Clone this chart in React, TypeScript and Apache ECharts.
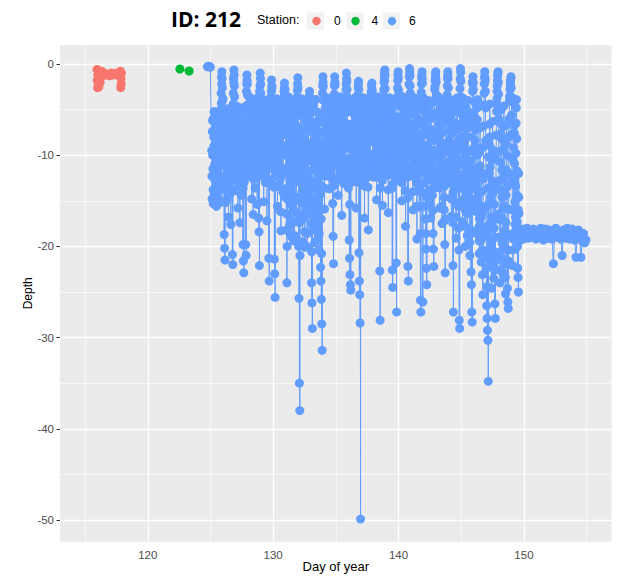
import React, { useEffect, useRef } from "react";
import * as echarts from "echarts";

// ---- axes ----
const xTicks = [120, 130, 140, 150];
const xMinor = [115, 125, 135, 145, 155];
const yTicks = [0, -10, -20, -30, -40, -50];
const yMinor = [-5, -15, -25, -35, -45];

// ---- station 0 (red) ----
const station0Day = [115.95, 115.97, 116.0, 116.02, 116.05, 116.08, 116.1, 116.13, 116.16, 116.2, 116.24, 116.28, 116.32, 116.36, 116.5, 116.65, 116.8, 116.95, 117.1, 117.25, 117.4, 117.55, 117.7, 117.82, 117.84, 117.86, 117.88, 117.9];
const station0Depth = [-0.6, -1.8, -2.6, -1.2, -2.2, -0.8, -2.5, -1.5, -0.9, -2.0, -1.1, -1.4, -0.8, -1.3, -1.0, -1.2, -1.1, -1.3, -1.0, -1.2, -1.1, -1.0, -1.3, -0.8, -2.6, -1.6, -2.2, -1.0];

// ---- station 4 (green) ----
const station4Day = [122.56, 123.3];
const station4Depth = [-0.55, -0.77];

// ---- station 6 (blue) ----
const surfaceDay = [124.76, 124.8, 124.85, 124.9, 124.95, 124.99];
const surfaceDepth = [-0.3, -0.3, -0.25, -0.3, -0.3, -0.35];

const samplesPerDay = 32;
const diveStartDay = [125.1, 126, 127, 128, 129, 130, 131, 132, 133, 134, 135, 136, 137, 138, 139, 140, 141, 142, 143, 144, 145, 146, 147, 148, 149];
// samples on the 1/32-day grid
const diveDepths = [
  [-9.5, -14.8, -6.2, -11.5, -15.3, -8.0, -5.2, -12.6, -15.0, -9.8, -6.5, -13.4, -15.6, -10.6, -7.1, -5.4, -12.0, -14.6, -8.7, -11.2, -15.2, -13.0, -7.6, -5.0, -3.2, -1.4, -0.85, -2.6],
  [-3.8, -8.5, -13.8, -18.7, -20.2, -21.5, -15.2, -10.4, -5.6, -12.2, -14.9, -7.3, -4.9, -11.0, -16.8, -13.5, -8.2, -5.5, -10.9, -14.2, -17.6, -9.4, -6.0, -12.8, -20.9, -22.0, -4.4, -1.6, -0.66, -2.4, -5.0, -9.6],
  [-12.4, -6.8, -4.6, -10.2, -13.9, -8.1, -15.8, -11.3, -5.2, -9.0, -13.2, -17.4, -7.5, -4.8, -11.8, -14.4, -9.6, -6.1, -12.5, -19.8, -21.6, -22.9, -13.0, -7.9, -5.0, -10.7, -19.8, -21.0, -3.0, -1.2, -2.2, -4.5],
  [-8.8, -11.6, -5.3, -3.6, -9.4, -12.1, -7.0, -4.2, -10.5, -14.8, -8.3, -5.8, -11.9, -16.5, -9.9, -4.0, -7.7, -11.2, -13.6, -6.4, -3.8, -9.1, -12.4, -15.4, -8.6, -5.1, -10.8, -16.9, -18.4, -22.1, -3.4, -1.0],
  [-2.2, -4.8, -9.7, -12.0, -6.5, -3.9, -8.4, -11.4, -15.1, -7.2, -4.5, -10.1, -13.0, -8.9, -5.6, -11.7, -17.2, -9.3, -4.1, -7.9, -12.6, -21.3, -23.8, -10.4, -6.2, -3.7, -9.8, -4.0, -1.75, -2.6, -5.4, -11.0],
  [-8.0, -4.3, -13.5, -21.4, -23.0, -25.6, -12.2, -6.9, -3.8, -9.5, -11.8, -15.6, -7.4, -4.6, -10.3, -13.3, -8.1, -5.2, -11.5, -16.2, -18.3, -9.2, -6.0, -3.9, -10.0, -14.1, -7.6, -4.4, -3.0, -2.1, -2.8, -4.9],
  [-9.4, -14.7, -18.2, -24.0, -16.5, -11.3, -5.8, -3.6, -8.7, -13.8, -17.6, -12.0, -6.3, -4.1, -10.6, -15.4, -19.0, -13.1, -7.8, -4.7, -9.9, -14.5, -18.8, -11.6, -5.5, -8.2, -12.9, -17.3, -10.2, -4.8, -2.9, -1.5],
  [-4.2, -20.0, -25.7, -35.0, -38.0, -16.8, -10.9, -5.6, -3.8, -9.0, -14.0, -19.5, -12.7, -7.1, -4.4, -11.1, -16.3, -20.1, -13.9, -8.5, -5.0, -10.3, -15.1, -18.6, -12.2, -6.7, -9.7, -4.5, -3.5, -3.0, -4.0, -7.4],
  [-12.8, -17.5, -24.0, -26.2, -29.0, -15.0, -8.8, -4.6, -11.4, -16.0, -19.6, -13.2, -6.9, -3.9, -10.1, -14.6, -18.1, -9.5, -5.3, -12.5, -17.0, -20.4, -11.9, -6.1, -14.3, -22.3, -23.8, -25.8, -28.5, -31.4, -3.2, -1.4],
  [-2.5, -6.4, -11.7, -15.9, -9.3, -4.8, -8.0, -12.3, -6.6, -3.7, -9.7, -11.4, -7.2, -4.3, -10.6, -13.7, -8.4, -5.1, -3.9, -9.1, -11.9, -6.8, -4.6, -10.2, -15.3, -18.9, -21.9, -8.3, -3.3, -1.4, -2.3, -4.7],
  [-9.6, -11.2, -6.0, -3.8, -8.7, -10.9, -14.4, -7.5, -4.4, -9.9, -12.0, -6.3, -3.6, -8.2, -11.5, -16.6, -9.0, -5.0, -7.8, -10.6, -13.1, -6.7, -4.0, -9.3, -11.8, -5.4, -2.8, -1.0, -1.9, -3.6, -7.0, -10.4],
  [-13.6, -8.1, -19.3, -21.3, -23.1, -24.2, -24.8, -10.5, -5.2, -3.9, -9.4, -11.7, -7.0, -4.5, -10.0, -12.9, -6.5, -3.7, -8.6, -11.3, -15.8, -9.1, -5.7, -10.8, -4.2, -2.6, -1.9, -20.7, -23.8, -25.3, -28.4, -49.9],
  [-12.0, -7.3, -4.0, -9.2, -11.5, -6.1, -3.7, -8.8, -12.6, -16.9, -10.1, -5.3, -4.1, -9.6, -11.2, -7.4, -4.7, -10.3, -13.5, -18.2, -9.8, -6.2, -3.8, -8.5, -11.0, -5.6, -3.4, -2.4, -2.1, -3.1, -6.6, -10.9],
  [-8.3, -4.4, -9.8, -11.6, -6.5, -3.9, -8.0, -10.8, -14.9, -7.8, -4.6, -9.3, -11.9, -5.9, -3.6, -10.4, -22.7, -28.1, -12.3, -7.1, -4.3, -9.0, -11.4, -15.5, -8.7, -5.0, -3.5, -2.0, -0.9, -0.66, -2.7, -5.8],
  [-9.9, -11.8, -6.9, -4.0, -8.9, -12.2, -16.3, -9.5, -5.4, -3.7, -9.1, -11.1, -6.4, -4.2, -10.2, -13.6, -22.6, -24.5, -10.7, -5.9, -3.9, -8.6, -11.6, -7.3, -4.5, -12.8, -21.8, -27.2, -9.4, -3.6, -1.8, -0.84],
  [-2.9, -6.2, -10.4, -12.0, -7.6, -4.1, -9.2, -11.3, -15.0, -8.2, -4.8, -3.6, -9.7, -11.9, -6.8, -4.4, -10.5, -13.9, -17.8, -9.0, -5.2, -3.8, -8.4, -14.7, -22.2, -23.8, -6.6, -2.2, -0.5, -1.3, -3.2, -7.9],
  [-11.4, -6.7, -4.2, -9.8, -12.3, -16.0, -8.5, -4.9, -3.7, -10.1, -11.7, -7.0, -4.3, -9.4, -13.0, -19.2, -10.6, -6.0, -3.9, -8.8, -11.8, -15.7, -7.7, -13.9, -25.9, -27.2, -3.1, -1.5, -0.84, -2.1, -26.1, -9.2],
  [-5.1, -3.8, -8.9, -11.5, -14.2, -17.0, -20.3, -22.4, -24.2, -10.8, -5.5, -4.0, -9.6, -12.4, -7.2, -4.6, -10.3, -13.8, -16.9, -8.1, -4.3, -9.5, -12.7, -16.1, -18.6, -20.3, -22.2, -7.6, -3.9, -2.5, -1.4, -0.85],
  [-2.0, -5.3, -10.1, -12.9, -8.0, -4.2, -3.6, -9.3, -11.6, -15.8, -9.1, -5.0, -4.0, -10.0, -13.3, -17.5, -8.7, -4.7, -7.5, -11.2, -14.6, -17.2, -19.8, -22.9, -11.9, -6.4, -3.8, -9.0, -3.4, -1.6, -0.85, -2.6],
  [-5.9, -10.7, -12.6, -7.4, -4.1, -9.0, -13.1, -16.7, -10.2, -5.4, -14.4, -22.1, -27.2, -12.0, -6.6, -3.9, -8.8, -11.4, -15.2, -19.1, -9.7, -4.9, -3.7, -10.4, -13.6, -18.0, -20.4, -28.1, -29.0, -2.7, -0.5, -1.9],
  [-4.6, -9.2, -12.8, -17.3, -11.0, -5.7, -3.8, -8.6, -12.1, -15.9, -20.0, -9.8, -4.7, -7.9, -11.8, -16.4, -13.2, -6.3, -4.0, -9.5, -12.9, -18.4, -21.0, -10.6, -15.0, -22.8, -24.2, -27.2, -28.3, -3.0, -1.4, -2.8],
  [-6.9, -11.5, -14.8, -8.4, -4.3, -10.0, -13.7, -18.6, -12.2, -6.1, -3.9, -9.9, -14.1, -17.9, -20.8, -12.5, -7.0, -15.6, -19.4, -21.7, -14.0, -18.8, -23.1, -25.3, -16.2, -9.1, -4.5, -2.2, -0.85, -1.8, -4.8, -12.0],
  [-18.5, -26.5, -27.9, -29.2, -30.3, -34.8, -21.4, -15.3, -8.9, -4.4, -11.3, -17.7, -22.0, -24.6, -19.2, -12.8, -6.3, -14.2, -20.5, -23.5, -18.0, -22.6, -26.3, -27.9, -16.6, -10.5, -5.2, -3.8, -2.4, -1.3, -0.85, -3.3],
  [-9.6, -16.4, -21.2, -24.0, -17.1, -10.8, -5.0, -8.2, -14.6, -19.7, -22.9, -15.8, -9.3, -4.6, -12.4, -18.3, -21.9, -25.2, -17.4, -11.6, -6.7, -13.5, -24.6, -26.1, -26.8, -15.9, -8.0, -4.1, -3.5, -2.3, -1.9, -1.4],
  [-3.6, -7.7, -13.0, -18.6, -22.1, -16.0, -9.2, -4.3, -10.9, -15.1, -20.3, -13.4, -6.5, -3.9, -11.7, -17.3, -22.4, -23.4, -25.0, -14.6, -18.2],
];
// samples half-way between those above
const diveDepthsHalf = [
  [-12.3, -7.4, -10.0, -13.8, -6.0, -9.0, -14.2, -11.0, -5.8, -8.4, -12.9, -10.4, -7.0, -14.0, -9.3, -6.2, -11.6, -13.3, -7.9, -10.1, -12.3, -5.6, -9.6, -6.8, -4.3, -2.2, -1.6, -4.0],
  [-5.8, -11.0, -7.0, -12.5, -9.0, -6.6, -13.0, -8.0, -10.2, -6.8, -12.0, -9.6, -14.0, -7.8, -5.2, -9.8, -12.6, -7.2, -11.2, -6.4, -13.6, -8.6, -10.4, -5.8, -9.2, -6.0, -3.2, -2.0, -1.2, -3.6, -7.2, -12.0],
  [-9.4, -5.6, -7.6, -12.0, -11.0, -6.0, -13.6, -9.2, -7.0, -11.6, -5.6, -14.0, -10.0, -6.4, -8.6, -12.8, -7.8, -10.8, -9.0, -13.6, -6.6, -11.4, -8.2, -12.6, -6.8, -9.4, -7.2, -4.6, -2.2, -1.8, -3.4, -6.6],
  [-6.4, -9.8, -4.4, -7.4, -11.0, -5.6, -8.6, -12.2, -6.0, -9.6, -4.8, -10.6, -7.0, -12.6, -5.4, -8.2, -10.4, -6.2, -9.4, -4.6, -11.6, -7.6, -5.0, -10.0, -6.8, -12.0, -8.4, -4.2, -6.0, -3.0, -2.4, -1.6],
  [-3.2, -7.0, -11.0, -5.2, -8.6, -10.4, -6.0, -12.4, -9.4, -5.0, -7.8, -11.8, -6.6, -10.0, -4.4, -8.2, -12.6, -6.2, -9.6, -5.6, -10.8, -7.2, -13.0, -8.6, -4.8, -11.2, -6.4, -3.0, -2.4, -3.8, -7.6, -9.0],
  [-6.2, -9.0, -11.6, -5.0, -7.6, -10.6, -8.4, -4.8, -12.0, -6.6, -9.8, -7.2, -13.4, -5.6, -11.2, -8.0, -10.0, -6.4, -12.6, -7.0, -9.4, -4.6, -11.4, -7.8, -5.6, -9.2, -5.4, -3.6, -2.6, -3.4, -4.0, -6.8],
  [-12.0, -16.4, -7.6, -20.0, -13.6, -8.8, -4.6, -10.2, -15.0, -6.6, -18.6, -11.0, -14.2, -5.2, -9.0, -17.2, -12.6, -7.0, -15.8, -10.4, -19.4, -6.0, -13.0, -16.2, -8.4, -11.4, -14.8, -6.8, -9.6, -3.6, -2.2, -2.6],
  [-8.2, -14.6, -11.8, -17.4, -21.0, -12.4, -7.6, -15.2, -9.4, -5.4, -12.6, -17.0, -8.0, -14.8, -6.0, -10.0, -18.4, -13.0, -9.8, -15.8, -7.0, -12.8, -20.0, -16.6, -9.0, -14.2, -6.4, -5.6, -4.2, -3.6, -5.2, -10.6],
  [-15.6, -9.8, -20.6, -13.4, -18.2, -11.6, -6.4, -9.0, -13.6, -17.8, -8.2, -15.4, -5.2, -11.6, -16.8, -7.8, -12.8, -19.2, -9.8, -14.8, -7.4, -18.6, -10.4, -15.8, -8.6, -12.2, -17.0, -20.8, -13.4, -6.4, -2.4, -2.0],
  [-4.0, -9.0, -13.6, -7.4, -11.0, -5.8, -10.2, -8.4, -4.6, -6.8, -10.8, -8.8, -5.6, -12.2, -7.0, -9.6, -11.4, -6.2, -8.2, -10.4, -5.2, -9.4, -7.4, -12.6, -6.4, -10.0, -13.4, -5.4, -2.4, -2.0, -3.6, -6.2],
  [-10.6, -8.2, -4.6, -6.6, -9.8, -12.6, -5.6, -8.6, -11.2, -7.0, -4.8, -10.6, -9.2, -5.6, -12.4, -7.8, -10.2, -6.2, -9.0, -11.6, -8.0, -5.0, -10.8, -7.2, -8.8, -4.2, -2.2, -1.6, -2.8, -5.2, -8.6, -12.2],
  [-10.8, -6.6, -12.4, -15.4, -11.6, -8.0, -13.0, -7.4, -4.4, -6.6, -10.6, -8.8, -5.4, -12.0, -7.6, -9.4, -11.0, -5.0, -10.0, -7.0, -12.8, -6.2, -8.4, -6.0, -3.4, -2.2, -2.8, -4.0, -13.0, -9.6, -7.0, -11.8],
  [-9.6, -5.2, -6.6, -11.0, -8.2, -4.8, -10.4, -12.0, -7.0, -13.4, -7.6, -9.0, -6.2, -11.6, -8.6, -5.6, -12.4, -8.0, -10.8, -6.4, -11.8, -8.4, -5.2, -10.2, -7.0, -4.4, -3.0, -3.8, -2.8, -4.6, -8.4, -12.4],
  [-6.0, -7.4, -11.2, -8.6, -5.0, -10.0, -12.4, -6.8, -9.2, -11.4, -6.0, -10.6, -8.0, -4.6, -7.2, -12.0, -9.4, -13.6, -8.6, -5.6, -10.2, -7.6, -12.8, -10.6, -6.6, -4.4, -2.8, -1.4, -1.8, -1.2, -4.0, -8.0],
  [-12.0, -8.6, -5.2, -6.4, -10.6, -13.8, -11.6, -7.0, -4.4, -6.4, -10.2, -8.2, -5.2, -7.6, -12.0, -9.8, -13.2, -8.0, -7.8, -4.6, -6.4, -10.2, -9.0, -5.8, -8.8, -10.6, -12.6, -8.6, -6.0, -2.6, -1.2, -1.6],
  [-4.4, -8.2, -11.4, -9.6, -5.8, -7.0, -10.2, -13.0, -11.4, -6.4, -4.2, -7.2, -11.0, -8.6, -5.4, -7.6, -12.2, -10.4, -11.6, -7.0, -4.4, -6.2, -11.6, -12.4, -9.6, -8.4, -4.2, -1.4, -0.9, -2.4, -5.4, -9.8],
  [-8.8, -5.2, -7.0, -11.0, -14.0, -10.2, -6.6, -4.0, -7.0, -12.0, -9.2, -5.6, -7.6, -11.2, -15.6, -12.4, -8.2, -5.0, -6.4, -10.2, -13.6, -9.6, -10.8, -18.6, -14.0, -8.6, -2.2, -1.2, -1.6, -3.6, -11.4, -6.8],
  [-4.4, -6.4, -10.2, -13.0, -15.6, -18.6, -12.0, -9.0, -14.6, -7.8, -4.6, -7.0, -11.0, -9.8, -5.8, -8.0, -12.0, -15.4, -10.6, -6.0, -7.2, -11.2, -14.4, -9.6, -12.4, -8.4, -13.6, -5.4, -2.8, -1.8, -1.0, -1.6],
  [-3.4, -7.6, -11.6, -10.2, -5.8, -4.0, -6.6, -10.6, -13.6, -12.0, -7.0, -4.6, -7.2, -11.8, -15.6, -12.2, -6.4, -5.8, -9.2, -12.8, -16.0, -13.4, -9.2, -17.0, -8.8, -5.0, -6.4, -5.8, -2.4, -1.2, -1.6, -4.4],
  [-8.4, -11.6, -9.8, -5.6, -6.6, -11.0, -14.8, -12.8, -7.6, -9.6, -17.4, -14.0, -9.0, -8.8, -4.8, -6.4, -10.0, -13.2, -16.8, -12.6, -7.0, -4.2, -7.2, -12.0, -15.6, -13.6, -10.6, -8.2, -5.4, -1.6, -0.9, -3.6],
  [-6.8, -11.0, -15.0, -13.6, -8.0, -4.6, -6.2, -10.4, -13.8, -17.8, -14.6, -7.0, -6.0, -9.8, -14.0, -18.8, -9.6, -5.2, -7.0, -11.2, -15.6, -19.6, -13.8, -12.8, -18.2, -16.0, -11.6, -8.0, -2.0, -2.2, -2.0, -5.6],
  [-9.2, -13.2, -11.6, -6.2, -7.2, -12.0, -16.2, -15.4, -9.2, -4.8, -7.0, -12.2, -16.0, -19.4, -17.0, -9.6, -11.2, -17.6, -20.6, -16.8, -12.0, -21.0, -19.0, -20.4, -12.6, -6.8, -3.2, -1.4, -1.6, -3.0, -8.4, -15.6],
  [-22.4, -24.4, -20.6, -18.0, -13.6, -10.2, -17.6, -12.0, -6.6, -8.0, -14.6, -19.8, -21.2, -16.8, -10.0, -9.4, -10.4, -17.2, -22.0, -20.8, -15.4, -13.2, -21.6, -19.0, -13.6, -7.8, -4.4, -3.0, -1.8, -1.0, -2.0, -6.0],
  [-12.8, -19.0, -22.6, -20.6, -13.8, -7.6, -6.6, -11.6, -17.0, -21.4, -19.4, -12.6, -6.8, -8.4, -15.6, -20.2, -23.4, -21.4, -14.4, -8.8, -10.0, -18.8, -22.0, -20.4, -21.6, -12.0, -6.0, -3.6, -2.8, -2.0, -1.6, -2.6],
  [-5.6, -10.4, -16.0, -20.4, -19.2, -12.6, -6.8, -7.6, -13.2, -17.6, -16.8, -9.8, -4.8, -8.2, -14.4, -20.0, -18.6, -16.0, -12.0, -16.4, -19.4],
];

const bandStartDay = 149.75;
const bandStep = 0.1;
const bandDepths = [-18.6, -18.1, -19.2, -18.3, -18.9, -18.0, -19.1, -18.4, -18.2, -19.0, -18.1, -18.7, -19.2, -18.2, -18.5, -19.0, -18.0, -18.8, -19.3, -18.3, -18.1, -18.9, -19.1, -18.2, -18.6, -19.2, -21.9, -18.4, -18.0, -19.0, -18.3, -18.8, -19.2, -21.0, -18.2, -18.6, -19.1, -18.0, -18.5, -19.2, -18.3, -18.1, -18.9, -19.3, -21.2, -18.4, -18.2, -19.0, -21.2, -19.4, -18.6, -19.6, -19.3];

const colors = { s0: "#F8766D", s4: "#00BA38", s6: "#619CFF" };
const stations = ["0", "4", "6"];

const FONT = "'Liberation Sans', Arial, sans-serif";

function buildOption() {
  const red = station0Day.map((d, i) => [d, station0Depth[i]]);
  const green = station4Day.map((d, i) => [d, station4Depth[i]]);
  const blue: number[][] = [];
  surfaceDay.forEach((d, i) => blue.push([d, surfaceDepth[i]]));
  diveDepths.forEach((row, r) =>
    row.forEach((v, i) => {
      blue.push([diveStartDay[r] + i / samplesPerDay, v]);
      const h = diveDepthsHalf[r][i];
      if (h !== undefined) blue.push([diveStartDay[r] + (i + 0.5) / samplesPerDay, h]);
    })
  );
  bandDepths.forEach((v, i) => blue.push([bandStartDay + i * bandStep, v]));

  const mkSeries = (name: string, color: string, data: number[][]) => ({
    name,
    type: "line",
    data,
    z: 3,
    symbol: "circle",
    symbolSize: 9,
    showSymbol: true,
    showAllSymbol: true,
    silent: true,
    lineStyle: { color, width: 1 },
    itemStyle: { color, borderWidth: 0 },
    emphasis: { disabled: true },
  });

  const gridLines = [
    ...xMinor.map((v) => ({ xAxis: v, lineStyle: { width: 0.6 } })),
    ...yMinor.map((v) => ({ yAxis: v, lineStyle: { width: 0.6 } })),
    ...xTicks.map((v) => ({ xAxis: v, lineStyle: { width: 1.3 } })),
    ...yTicks.map((v) => ({ yAxis: v, lineStyle: { width: 1.3 } })),
  ];

  const labelStyle = { color: "#4D4D4D", fontSize: 11.5, fontFamily: FONT };

  return {
    animation: false,
    backgroundColor: "#FFFFFF",
    title: {
      text: "ID: 212",
      left: 171,
      top: 8,
      padding: 0,
      textStyle: { fontFamily: "'Open Sans', sans-serif", fontWeight: "bold", fontSize: 21, color: "#000" },
    },
    grid: {
      left: 60,
      right: 8.3,
      top: 45,
      bottom: 36.3,
      show: true,
      backgroundColor: "#EBEBEB",
      borderWidth: 0,
      containLabel: false,
    },
    xAxis: {
      type: "value",
      min: 113,
      max: 157,
      name: "Day of year",
      nameLocation: "middle",
      nameGap: 18,
      nameMoveOverlap: false,
      nameTextStyle: { color: "#000", fontSize: 13, fontFamily: FONT },
      axisLine: { show: false },
      axisTick: { show: true, length: 3.5, customValues: xTicks, lineStyle: { color: "#333333", width: 1 } },
      axisLabel: { ...labelStyle, margin: 7, customValues: xTicks },
      splitLine: { show: false },
    },
    yAxis: {
      type: "value",
      min: -52.38,
      max: 2.08,
      name: "Depth",
      nameLocation: "middle",
      nameGap: 26,
      nameMoveOverlap: false,
      nameTextStyle: { color: "#000", fontSize: 12, fontFamily: FONT },
      axisLine: { show: false },
      axisTick: { show: true, length: 3.5, customValues: yTicks, lineStyle: { color: "#333333", width: 1 } },
      axisLabel: { ...labelStyle, margin: 6, customValues: yTicks },
      splitLine: { show: false },
    },
    graphic: [
      { type: "text", left: 257, top: 13, style: { text: "Station:", fontSize: 12.5, fontFamily: FONT, fill: "#000" } },
      { type: "rect", shape: { x: 307, y: 12.5, width: 17, height: 17 }, style: { fill: "#F2F2F2" } },
      { type: "circle", shape: { cx: 316.5, cy: 21, r: 4.2 }, style: { fill: colors.s0 } },
      { type: "text", x: 334, y: 21, style: { text: stations[0], fontSize: 12, fontFamily: FONT, fill: "#000", textVerticalAlign: "middle" } },
      { type: "rect", shape: { x: 346.5, y: 12.5, width: 17, height: 17 }, style: { fill: "#F2F2F2" } },
      { type: "circle", shape: { cx: 355.5, cy: 21, r: 4.2 }, style: { fill: colors.s4 } },
      { type: "text", x: 371.5, y: 21, style: { text: stations[1], fontSize: 12, fontFamily: FONT, fill: "#000", textVerticalAlign: "middle" } },
      { type: "rect", shape: { x: 383, y: 12.5, width: 17, height: 17 }, style: { fill: "#F2F2F2" } },
      { type: "circle", shape: { cx: 392, cy: 21, r: 4.2 }, style: { fill: colors.s6 } },
      { type: "text", x: 409, y: 21, style: { text: stations[2], fontSize: 12, fontFamily: FONT, fill: "#000", textVerticalAlign: "middle" } },
    ],
    series: [
      {
        name: "grid",
        type: "line",
        data: [],
        z: 1,
        silent: true,
        markLine: {
          z: 1,
          silent: true,
          symbol: ["none", "none"],
          label: { show: false },
          emphasis: { disabled: true },
          lineStyle: { color: "#FFFFFF", type: "solid" },
          data: gridLines,
        },
      },
      mkSeries(stations[0], colors.s0, red),
      mkSeries(stations[1], colors.s4, green),
      mkSeries(stations[2], colors.s6, blue),
    ],
  };
}

export default function App() {
  const ref = useRef<HTMLDivElement>(null);
  useEffect(() => {
    document.body.style.margin = "0";
    if (!ref.current) return;
    const chart = echarts.init(ref.current, undefined, { renderer: "svg" });
    chart.setOption(buildOption() as any);
    return () => chart.dispose();
  }, []);
  return (
    <div
      ref={ref}
      style={{ position: "fixed", left: 0, top: 0, width: 620, height: 578, background: "#fff" }}
    />
  );
}
